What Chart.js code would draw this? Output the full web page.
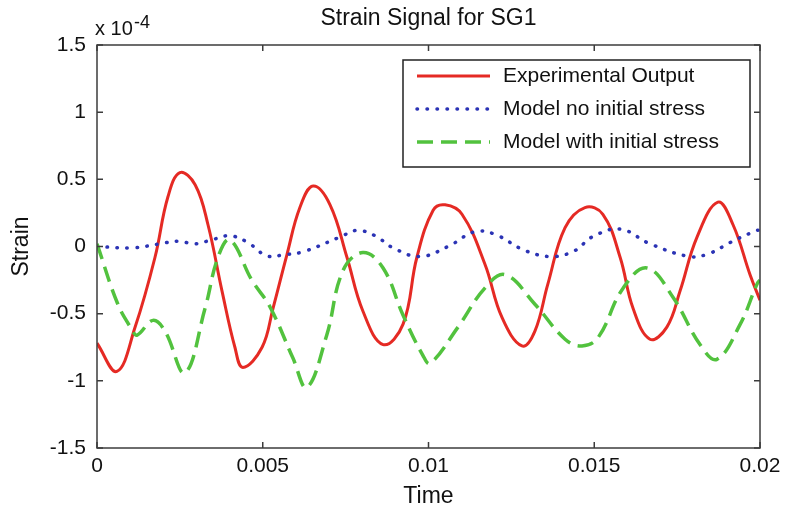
<!DOCTYPE html>
<html>
<head>
<meta charset="utf-8">
<script src="https://cdn.jsdelivr.net/npm/chart.js@4/dist/chart.umd.min.js"></script>
<style>
  html, body { margin: 0; padding: 0; background: #fff; }
</style>
</head>
<body>
<canvas id="chart" width="795" height="513"></canvas>
<script>
// strain values are in units of 1e-4 (the axis multiplier)
const expTime = [0, 0.00060, 0.00115, 0.00175, 0.00214, 0.00250, 0.00296, 0.00335, 0.00377, 0.00416,
  0.00440, 0.00498, 0.00531, 0.00573, 0.00612, 0.00652, 0.00703, 0.00754, 0.00802, 0.00863,
  0.00923, 0.00965, 0.01014, 0.01050, 0.01101, 0.01170, 0.01222, 0.01282, 0.01321, 0.01360,
  0.01412, 0.01472, 0.01526, 0.01578, 0.01617, 0.01668, 0.01719, 0.01759, 0.01810, 0.01873,
  0.01919, 0.01970, 0.02000];
const expStrain = [-0.72, -0.93, -0.60, -0.08, 0.37, 0.55, 0.46, 0.16, -0.33, -0.75,
  -0.90, -0.75, -0.46, -0.06, 0.29, 0.45, 0.31, -0.08, -0.48, -0.73,
  -0.58, -0.08, 0.27, 0.31, 0.24, -0.13, -0.53, -0.74, -0.63, -0.28,
  0.14, 0.29, 0.24, -0.08, -0.46, -0.69, -0.60, -0.33, 0.07, 0.33,
  0.16, -0.21, -0.40];

const noStressTime = [0, 0.00106, 0.00190, 0.00244, 0.00296, 0.00347, 0.00401, 0.00455, 0.00513, 0.00567,
  0.00621, 0.00733, 0.00784, 0.00839, 0.00893, 0.00974, 0.01059, 0.01140, 0.01201, 0.01291,
  0.01373, 0.01442, 0.01493, 0.01578, 0.01668, 0.01789, 0.01849, 0.01910, 0.01991, 0.02000];
const noStressStrain = [0, -0.01, 0.02, 0.04, 0.02, 0.05, 0.08, 0.03, -0.07, -0.06,
  -0.04, 0.07, 0.12, 0.08, -0.01, -0.075, 0.00, 0.11, 0.09, -0.03,
  -0.075, -0.03, 0.07, 0.13, 0.02, -0.075, -0.05, 0.03, 0.12, 0.12];

const withStressTime = [0, 0.00063, 0.00106, 0.00121, 0.00169, 0.00205, 0.00265, 0.00326, 0.00365, 0.00401,
  0.00467, 0.00522, 0.00591, 0.00633, 0.00693, 0.00742, 0.00802, 0.00863, 0.00923, 0.00983,
  0.01005, 0.01089, 0.01170, 0.01231, 0.01321, 0.01412, 0.01463, 0.01511, 0.01587, 0.01659,
  0.01738, 0.01819, 0.01870, 0.01940, 0.01991, 0.02000];
const withStressStrain = [0.02, -0.43, -0.62, -0.66, -0.55, -0.63, -0.94, -0.46, -0.08, 0.05,
  -0.25, -0.45, -0.83, -1.05, -0.66, -0.18, -0.045, -0.16, -0.51, -0.81,
  -0.87, -0.60, -0.31, -0.21, -0.43, -0.69, -0.74, -0.68, -0.31, -0.16,
  -0.38, -0.73, -0.84, -0.58, -0.28, -0.25];

const xTicks = [0, 0.005, 0.01, 0.015, 0.02];
const yTicks = [-1.5, -1, -0.5, 0, 0.5, 1, 1.5];

const chartTitle = 'Strain Signal for SG1';

const toPoints = (xs, ys) => xs.map((x, i) => ({x: x, y: ys[i]}));

const FONT = '"Liberation Sans", Arial, Helvetica, sans-serif';
Chart.defaults.font.family = FONT;
Chart.defaults.color = '#111';

// MATLAB-like box with inward ticks, title over the axes, exponent label and legend
const matlabBox = {
  id: 'matlabBox',
  afterDatasetsDraw(chart) {
    const {ctx, chartArea: a, scales: {x, y}} = chart;
    ctx.save();
    ctx.strokeStyle = '#3c3c3c';
    ctx.lineWidth = 1.5;
    ctx.setLineDash([]);
    ctx.strokeRect(a.left, a.top, a.right - a.left, a.bottom - a.top);
    ctx.beginPath();
    x.ticks.forEach(t => {
      const px = x.getPixelForValue(t.value);
      ctx.moveTo(px, a.bottom); ctx.lineTo(px, a.bottom - 6);
      ctx.moveTo(px, a.top); ctx.lineTo(px, a.top + 6);
    });
    y.ticks.forEach(t => {
      const py = y.getPixelForValue(t.value);
      ctx.moveTo(a.left, py); ctx.lineTo(a.left + 6, py);
      ctx.moveTo(a.right, py); ctx.lineTo(a.right - 6, py);
    });
    ctx.stroke();

    // title centred over the axes
    ctx.fillStyle = '#111';
    ctx.textAlign = 'center';
    ctx.textBaseline = 'middle';
    ctx.font = '23px ' + FONT;
    ctx.fillText(chartTitle, (a.left + a.right) / 2, 19);

    // axis multiplier
    ctx.textAlign = 'left';
    ctx.textBaseline = 'alphabetic';
    ctx.font = '20px ' + FONT;
    ctx.fillText('x 10', a.left - 2, 35);
    ctx.font = '18px ' + FONT;
    ctx.fillText('-4', a.left + 37, 28);

    // legend
    const box = {left: 403, top: 60, right: 750, bottom: 167};
    ctx.fillStyle = '#fff';
    ctx.fillRect(box.left, box.top, box.right - box.left, box.bottom - box.top);
    ctx.strokeStyle = '#222';
    ctx.lineWidth = 1.5;
    ctx.strokeRect(box.left, box.top, box.right - box.left, box.bottom - box.top);
    const rows = [76, 109, 142];
    chart.data.datasets.forEach((ds, i) => {
      const yy = rows[i];
      ctx.beginPath();
      ctx.strokeStyle = ds.borderColor;
      ctx.lineWidth = ds.borderWidth;
      ctx.lineCap = ds.borderCapStyle || 'butt';
      ctx.setLineDash(ds.borderDash || []);
      ctx.moveTo(417, yy);
      ctx.lineTo(490, yy);
      ctx.stroke();
      ctx.setLineDash([]);
      ctx.fillStyle = '#111';
      ctx.font = '21px ' + FONT;
      ctx.textBaseline = 'middle';
      ctx.fillText(ds.label, 503, yy);
    });
    ctx.restore();
  }
};

new Chart(document.getElementById('chart'), {
  type: 'line',
  data: {
    datasets: [
      {
        label: 'Experimental Output',
        data: toPoints(expTime, expStrain),
        borderColor: '#e52a24',
        borderWidth: 3,
        order: 2
      },
      {
        label: 'Model no initial stress',
        data: toPoints(noStressTime, noStressStrain),
        borderColor: '#2b33b5',
        borderWidth: 3.5,
        borderDash: [0.5, 9.5],
        borderCapStyle: 'round',
        order: 1
      },
      {
        label: 'Model with initial stress',
        data: toPoints(withStressTime, withStressStrain),
        borderColor: '#52c23e',
        borderWidth: 3.5,
        borderDash: [16, 8],
        order: 0
      }
    ]
  },
  options: {
    responsive: false,
    animation: false,
    elements: {
      point: {radius: 0},
      line: {tension: 0.4, fill: false}
    },
    layout: {padding: {top: 45, right: 35, bottom: 0, left: 0}},
    plugins: {
      legend: {display: false},
      tooltip: {enabled: false},
      title: {display: false}
    },
    scales: {
      x: {
        type: 'linear',
        min: 0,
        max: 0.02,
        afterBuildTicks: s => { s.ticks = xTicks.map(v => ({value: v})); },
        afterFit: s => { s.height = 65; },
        grid: {display: false, drawTicks: false},
        border: {display: false},
        ticks: {
          callback: v => String(v),
          font: {size: 21},
          color: '#111',
          padding: 6,
          maxRotation: 0,
          autoSkip: false
        },
        title: {
          display: true,
          text: 'Time',
          color: '#111',
          font: {size: 23},
          padding: {top: 0, bottom: 3}
        }
      },
      y: {
        type: 'linear',
        min: -1.5,
        max: 1.5,
        afterBuildTicks: s => { s.ticks = yTicks.map(v => ({value: v})); },
        afterFit: s => { s.width = 97; },
        grid: {display: false, drawTicks: false},
        border: {display: false},
        ticks: {
          callback: v => String(v),
          font: {size: 21},
          color: '#111',
          padding: 11
        },
        title: {
          display: true,
          text: 'Strain',
          color: '#111',
          font: {size: 23},
          padding: {top: 8, bottom: 0}
        }
      }
    }
  },
  plugins: [matlabBox]
});
</script>
</body>
</html>
